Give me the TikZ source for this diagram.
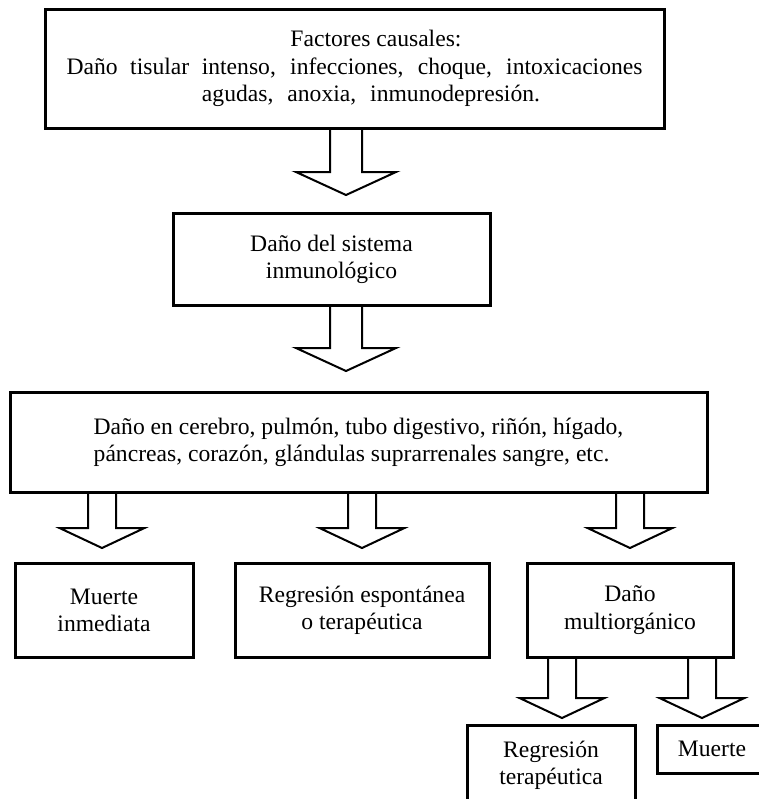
\documentclass[tikz,border=0pt]{standalone}
\usepackage{fontspec}
\setmainfont{Liberation Serif}
\usetikzlibrary{calc}
\newcommand{\shw}{28}
\newcommand{\hdw}{85}
\newcommand{\hdl}{20}
\newcommand{\mnode}[6][]{
  \node[mbox,#1,minimum width=#3*0.5pt,minimum height=#4*0.5pt] (#6) at #2 {#5};
}
\newcommand{\marrow}[5]{
  \coordinate (top) at ($#1$);
  \coordinate (tmp) at ($#2$);
  \coordinate (tip) at (top |- tmp);
  \coordinate (base) at ($(tip)+(0,-#5)$);
  \draw[arrowline] ($(top)+(-#3/2,0)$) -- ($(base)+(-#3/2,0)$) -- ($(base)+(-#4/2,0)$)
    -- (tip) -- ($(base)+(#4/2,0)$) -- ($(base)+(#3/2,0)$) -- ($(top)+(#3/2,0)$);
}
\tikzset{
  mbox/.style={draw,line width=1.5pt,inner sep=0pt,outer sep=0pt,align=center,
    font=\fontsize{11.8}{13.6}\selectfont},
  arrowline/.style={line width=1pt,miter limit=20}
}

\begin{document}
\begin{tikzpicture}[x=0.5pt,y=-0.5pt]
  \path[use as bounding box,fill=white] (0,0) rectangle (759,799);

  \mnode{(354.5,68.5)}{619}{119}{\hspace*{21.5pt}Factores causales:\\\makebox[288pt][s]{Daño tisular intenso, infecciones, choque, intoxicaciones}\\\hspace*{16.5pt}\makebox[169pt][s]{agudas, anoxia, inmunodepresión.}}{b1}
  \mnode{(331.5,259)}{317}{92}{Daño del sistema\\inmunológico}{b2}
  \mnode[align=left]{(358.5,442)}{697}{100}{Daño en cerebro, pulmón, tubo digestivo, riñón, hígado,\\páncreas, corazón, glándulas suprarrenales sangre, etc.}{b3}
  \mnode{(104,610)}{178}{94}{Muerte\\inmediata}{b4}
  \mnode{(362,610)}{254}{94}{Regresión espontánea\\o terapéutica}{b5}
  \mnode{(630,610)}{206}{94}{Daño\\multiorgánico}{b6}
  \mnode{(551,765)}{168}{80}{Regresión\\terapéutica}{b7}
  \mnode{(712,749)}{110}{48}{Muerte}{b8}

  \marrow{(b1.south)+(-8.5,0)}{(b2.north)+(0,-18)}{32}{100}{23}
  \marrow{(b2.south)+(14.5,0)}{(b3.north)+(0,-21)}{32}{100}{23}
  \marrow{(b3.south)+(-256.5,0)}{(b4.north)+(0,-15)}{\shw}{\hdw}{\hdl}
  \marrow{(b3.south)+(3.5,0)}{(b5.north)+(0,-15)}{\shw}{\hdw}{\hdl}
  \marrow{(b3.south)+(271.5,0)}{(b6.north)+(0,-15)}{\shw}{\hdw}{\hdl}
  \marrow{(b6.south)+(-68,0)}{(b7.north)+(0,-7)}{\shw}{\hdw}{\hdl}
  \marrow{(b6.south)+(72,0)}{(b8.north)+(0,-7)}{\shw}{\hdw}{\hdl}
\end{tikzpicture}
\end{document}
